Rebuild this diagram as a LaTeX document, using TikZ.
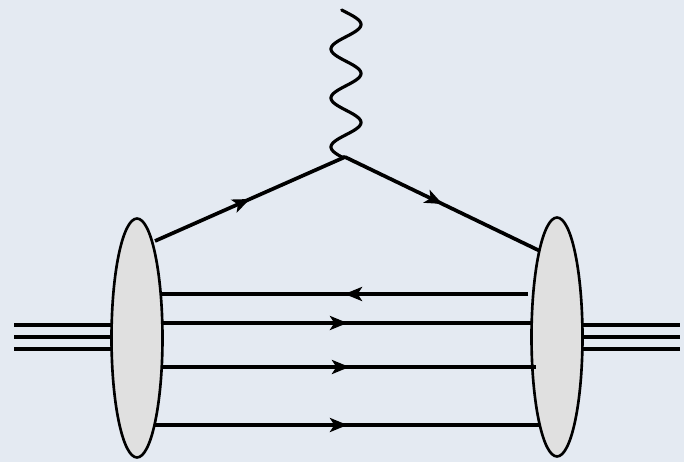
\documentclass[tikz,border=0pt]{standalone}
\usetikzlibrary{shapes.geometric,decorations.markings,arrows.meta}
\begin{document}
\begin{tikzpicture}[x=0.02cm, y=-0.02cm]
    % Define colours
    \definecolor{paperColour}{HTML}{E4EAF2}
    \definecolor{blobColour}{HTML}{E0E0E0}

    \tikzset{
        quark/.style={line width=2.1pt},
        fwd/.style={quark, postaction={decorate},
            decoration={markings, mark=at position 0.5 with {\arrow{Stealth[length=10pt,width=8pt,inset=2.5pt]}}}},
        blob/.style={ellipse, draw, fill=blobColour, line width=1.5pt,
            minimum width=1.02cm, minimum height=4.78cm, inner sep=0pt},
        photon/.style={line width=1.8pt, line cap=round}
    }

    % Background
    \fill[paperColour] (0,0) rectangle (684,462);
    \useasboundingbox (0,0) rectangle (684,462);

    % Incoming and outgoing hadrons
    \foreach \y in {325,337,349} {
        \draw[quark] (14,\y) -- (112,\y);
        \draw[quark] (582,\y) -- (680,\y);
    }

    % Draw blobs
    \node[blob] (inHadron) at (137,338) {};
    \node[blob] (outHadron) at (557,337) {};

    % Define coordinates for the lines
    \coordinate (vertex) at (345,157);
    \coordinate (inA) at (155,241);
    \coordinate (outA) at (540,251);
    \coordinate (inB) at (161,294);
    \coordinate (outB) at (528,294);
    \coordinate (inC) at (163,323);
    \coordinate (outC) at (532,323);
    \coordinate (inD) at (163,367);
    \coordinate (outD) at (536,367);
    \coordinate (inE) at (155,425);
    \coordinate (outE) at (540,425);

    % Draw photon, going up from the vertex (period 49)
    \begin{scope}[shift={(vertex)}]
        \draw[photon] (0,0) -- plot[domain=0:147, samples=150, smooth]
            ({1 - 15*cos((\x-10)*7.347)}, {-\x});
    \end{scope}

    % Draw struck quark
    \draw[fwd] (inA) -- (vertex);
    \draw[fwd] (vertex) -- (outA);

    % Draw spectator lines
    \draw[fwd] (outB) -- (inB);
    \draw[fwd] (inC) -- (outC);
    \draw[fwd] (inD) -- (outD);
    \draw[fwd] (inE) -- (outE);

\end{tikzpicture}
\end{document}
